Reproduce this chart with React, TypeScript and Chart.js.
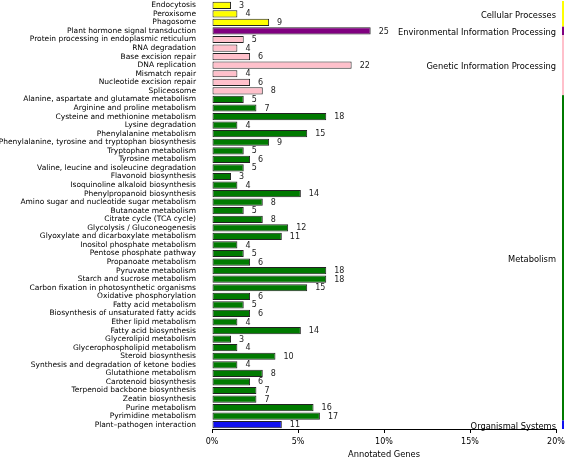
import { useEffect, useRef } from 'react';
import { Chart, registerables } from 'chart.js';

Chart.register(...registerables);

const categories = [
  'Endocytosis',
  'Peroxisome',
  'Phagosome',
  'Plant hormone signal transduction',
  'Protein processing in endoplasmic reticulum',
  'RNA degradation',
  'Base excision repair',
  'DNA replication',
  'Mismatch repair',
  'Nucleotide excision repair',
  'Spliceosome',
  'Alanine, aspartate and glutamate metabolism',
  'Arginine and proline metabolism',
  'Cysteine and methionine metabolism',
  'Lysine degradation',
  'Phenylalanine metabolism',
  'Phenylalanine, tyrosine and tryptophan biosynthesis',
  'Tryptophan metabolism',
  'Tyrosine metabolism',
  'Valine, leucine and isoleucine degradation',
  'Flavonoid biosynthesis',
  'Isoquinoline alkaloid biosynthesis',
  'Phenylpropanoid biosynthesis',
  'Amino sugar and nucleotide sugar metabolism',
  'Butanoate metabolism',
  'Citrate cycle (TCA cycle)',
  'Glycolysis / Gluconeogenesis',
  'Glyoxylate and dicarboxylate metabolism',
  'Inositol phosphate metabolism',
  'Pentose phosphate pathway',
  'Propanoate metabolism',
  'Pyruvate metabolism',
  'Starch and sucrose metabolism',
  'Carbon fixation in photosynthetic organisms',
  'Oxidative phosphorylation',
  'Fatty acid metabolism',
  'Biosynthesis of unsaturated fatty acids',
  'Ether lipid metabolism',
  'Fatty acid biosynthesis',
  'Glycerolipid metabolism',
  'Glycerophospholipid metabolism',
  'Steroid biosynthesis',
  'Synthesis and degradation of ketone bodies',
  'Glutathione metabolism',
  'Carotenoid biosynthesis',
  'Terpenoid backbone biosynthesis',
  'Zeatin biosynthesis',
  'Purine metabolism',
  'Pyrimidine metabolism',
  'Plant\u2013pathogen interaction',
];

const geneCounts = [
  3, 4, 9,
  25,
  5, 4, 6, 22, 4, 6, 8,
  5, 7, 18, 4, 15, 9, 5, 6, 5, 3, 4, 14, 8, 5, 8, 12, 11, 4, 5, 6, 18, 18, 15,
  6, 5, 6, 4, 14, 3, 4, 10, 4, 8, 6, 7, 7, 16, 17,
  11,
];

const groupNames = [
  'Cellular Processes',
  'Environmental Information Processing',
  'Genetic Information Processing',
  'Metabolism',
  'Organismal Systems',
];
const groupSizes = [3, 1, 7, 38, 1];
const groupColors = ['#FFFF00', '#800080', '#FFC0CB', '#007A00', '#1010F0'];

const TOTAL_GENES = 271;
const xTickValues = [0, 5, 10, 15, 20];

const FONT = '"DejaVu Sans", sans-serif';

export default function App() {
  const canvasRef = useRef<HTMLCanvasElement | null>(null);

  useEffect(() => {
    const canvas = canvasRef.current;
    if (!canvas) return;

    const barColors: string[] = [];
    groupSizes.forEach((n, g) => {
      for (let i = 0; i < n; i++) barColors.push(groupColors[g]);
    });
    const percents = geneCounts.map((c) => (c / TOTAL_GENES) * 100);

    const annotate = {
      id: 'annotate',
      afterDatasetsDraw(chart: any) {
        const ctx = chart.ctx;
        const meta = chart.getDatasetMeta(0);
        const yScale = chart.scales.y;
        const area = chart.chartArea;
        ctx.save();
        // value labels
        ctx.font = `8px ${FONT}`;
        ctx.fillStyle = '#222';
        ctx.textAlign = 'left';
        ctx.textBaseline = 'middle';
        meta.data.forEach((el: any, i: number) => {
          ctx.fillText(String(geneCounts[i]), el.x + 8, el.y + 0.5);
        });
        // group labels and side lines
        let start = 0;
        groupSizes.forEach((n, g) => {
          const top = yScale.getPixelForValue(start - 0.5);
          const bottom = yScale.getPixelForValue(start + n - 0.5);
          ctx.fillStyle = groupColors[g];
          ctx.fillRect(area.right + 6, top, 2, bottom - top);
          ctx.fillStyle = '#000';
          ctx.font = `8.3px ${FONT}`;
          ctx.textAlign = 'right';
          ctx.textBaseline = 'middle';
          ctx.fillText(groupNames[g], area.right, (top + bottom) / 2 + 2);
          start += n;
        });
        ctx.restore();
      },
    };

    const chart = new Chart(canvas, {
      type: 'bar',
      data: {
        labels: categories,
        datasets: [
          {
            data: percents,
            backgroundColor: barColors,
            borderColor: '#222',
            borderWidth: 1,
            borderSkipped: false,
            barPercentage: 0.84,
            categoryPercentage: 1,
          },
        ],
      },
      options: {
        indexAxis: 'y',
        animation: false,
        responsive: true,
        maintainAspectRatio: false,
        layout: { padding: { top: 1, right: 11, bottom: 0, left: 0 } },
        plugins: {
          legend: { display: false },
          tooltip: { enabled: false },
        },
        scales: {
          x: {
            type: 'linear',
            min: 0,
            max: 20,
            afterBuildTicks(scale: any) {
              scale.ticks = xTickValues.map((v) => ({ value: v }));
            },
            afterFit(scale: any) {
              scale.height = 30;
              scale.paddingLeft = 0;
              scale.paddingRight = 0;
            },
            grid: {
              display: true,
              drawOnChartArea: false,
              drawTicks: true,
              tickLength: 4,
              color: '#000',
            },
            border: { display: true, color: '#000', width: 1 },
            ticks: {
              padding: 4,
              color: '#000',
              font: { family: FONT, size: 8 },
              callback: (v: any) => `${v}%`,
            },
            title: {
              display: true,
              text: 'Annotated Genes',
              color: '#000',
              font: { family: FONT, size: 8.3 },
              padding: { top: 0, bottom: -1 },
            },
          },
          y: {
            type: 'category',
            afterFit(scale: any) {
              scale.width = 212;
              scale.paddingTop = 0;
              scale.paddingBottom = 0;
            },
            grid: { display: false, drawTicks: false },
            border: { display: false },
            ticks: {
              padding: 16,
              autoSkip: false,
              color: '#000',
              font: { family: FONT, size: 7.5 },
            },
          },
        },
      },
      plugins: [annotate],
    } as any);

    return () => chart.destroy();
  }, []);

  return (
    <div style={{ position: 'absolute', left: 0, top: 0, width: 567, height: 459 }}>
      <canvas ref={canvasRef} />
    </div>
  );
}
